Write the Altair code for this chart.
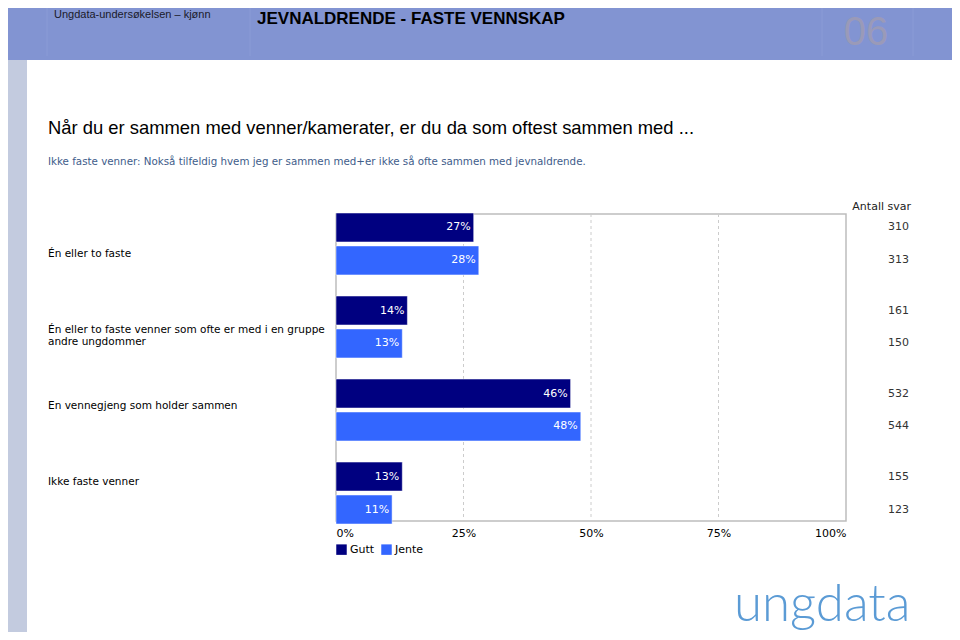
import altair as alt
import pandas as pd

# ---- data ----
groups = [
    "Én eller to faste",
    "Én eller to faste venner som ofte er med i en gruppe andre ungdommer",
    "En vennegjeng som holder sammen",
    "Ikke faste venner",
]
group_labels = [
    "Én eller to faste",
    "Én eller to faste venner som ofte er med i en gruppe\nandre ungdommer",
    "En vennegjeng som holder sammen",
    "Ikke faste venner",
]
genders = ["Gutt", "Jente"]
gutt_pct = [27, 14, 46, 13]
jente_pct = [28, 13, 48, 11]
gutt_n = [310, 161, 532, 155]
jente_n = [313, 150, 544, 123]
x_ticks = [0, 25, 50, 75, 100]

colors = ["#000080", "#3366FF"]

rows = []
for i, g in enumerate(groups):
    rows.append({"group": g, "kjonn": "Gutt", "pct": gutt_pct[i], "n": gutt_n[i], "lbl": f"{gutt_pct[i]}%"})
    rows.append({"group": g, "kjonn": "Jente", "pct": jente_pct[i], "n": jente_n[i], "lbl": f"{jente_pct[i]}%"})
df = pd.DataFrame(rows)
lab_df = pd.DataFrame({"group": groups, "label": group_labels})
grid_df = pd.DataFrame({"v": x_ticks[1:-1]})

W, H = 944, 624
FONT = "DejaVu Sans"

xscale = alt.Scale(domain=[0, 100], range=[328, 838])
yscale = alt.Scale(domain=groups, range=[205, 516], paddingInner=0.254, paddingOuter=0)
yoff = alt.YOffset("kjonn:N", scale=alt.Scale(domain=genders, paddingInner=0.12))

one = alt.Data(values=[{"a": 1}])

# ---- decorations ----
header = alt.Chart(one).mark_rect(color="#8294D2").encode(
    x=alt.value(0), x2=alt.value(W), y=alt.value(0), y2=alt.value(52))
sidebar = alt.Chart(one).mark_rect(color="#C3CBDF").encode(
    x=alt.value(0), x2=alt.value(19), y=alt.value(52), y2=alt.value(H))
sep_df = alt.Data(values=[{"x": 39}, {"x": 242}, {"x": 814}, {"x": 905}])
seps = alt.Chart(sep_df).mark_rule(color="#8A9BD6", strokeWidth=1).encode(
    x=alt.X("x:Q", scale=None), y=alt.value(0), y2=alt.value(48))
h1 = alt.Chart(one).mark_text(align="left", baseline="middle", font="Liberation Sans",
                              fontSize=11, color="#1a1a2a").encode(
    x=alt.value(46), y=alt.value(7), text=alt.value("Ungdata-undersøkelsen – kjønn"))
h2 = alt.Chart(one).mark_text(align="left", baseline="middle", font="Liberation Sans",
                              fontSize=17, fontWeight="bold", color="#000000").encode(
    x=alt.value(249), y=alt.value(11), text=alt.value("JEVNALDRENDE - FASTE VENNSKAP"))
h3 = alt.Chart(one).mark_text(align="center", baseline="middle", font="Liberation Sans",
                              fontSize=40, color="#9A9AB8").encode(
    x=alt.value(858), y=alt.value(25), text=alt.value("06"))

title = alt.Chart(one).mark_text(align="left", baseline="middle", font="Liberation Sans",
                                 fontSize=18.4, color="#000000").encode(
    x=alt.value(40), y=alt.value(120),
    text=alt.value("Når du er sammen med venner/kamerater, er du da som oftest sammen med ..."))
subtitle = alt.Chart(one).mark_text(align="left", baseline="middle", font=FONT,
                                    fontSize=10.3, color="#3E5C8A").encode(
    x=alt.value(40), y=alt.value(154),
    text=alt.value("Ikke faste venner: Nokså tilfeldig hvem jeg er sammen med+er ikke så ofte sammen med jevnaldrende."))

antall = alt.Chart(one).mark_text(align="right", baseline="middle", font=FONT,
                                  fontSize=11, color="#222222").encode(
    x=alt.value(903), y=alt.value(199), text=alt.value("Antall svar"))

logo = alt.Chart(one).mark_text(align="left", baseline="alphabetic", font="Lato",
                                fontSize=51, fontWeight=300, color="#5B9BD5").encode(
    x=alt.value(726), y=alt.value(613), text=alt.value("ungdata"))

# ---- plot frame and grid ----
frame = alt.Chart(one).mark_rect(fill="white", stroke="#BDBDBD", strokeWidth=1.5).encode(
    x=alt.X("x0:Q", scale=xscale), x2=alt.X2("x1:Q"),
    y=alt.value(206), y2=alt.value(513)).transform_calculate(x0="0", x1="100")
grid = alt.Chart(grid_df).mark_rule(color="#CCCCCC", strokeDash=[3, 3], strokeWidth=1).encode(
    x=alt.X("v:Q", scale=xscale), y=alt.value(206), y2=alt.value(513))

# ---- bars ----
bars = alt.Chart(df).mark_bar(stroke="white", strokeWidth=0.5).encode(
    x=alt.X("pct:Q", scale=xscale,
            axis=alt.Axis(orient="bottom", offset=-111, values=x_ticks, labelExpr="datum.value + '%'",
                          labelFlush=True, domain=False, ticks=False, grid=False,
                          labelFont=FONT, labelFontSize=11, labelColor="#000000",
                          labelPadding=6, title=None)),
    x2=alt.datum(0),
    y=alt.Y("group:N", scale=yscale, axis=None),
    yOffset=yoff,
    color=alt.Color("kjonn:N", scale=alt.Scale(domain=genders, range=colors),
                    legend=alt.Legend(orient="none", legendX=328, legendY=536, direction="horizontal",
                                      title=None, symbolType="square", symbolSize=110,
                                      symbolStrokeWidth=0, labelFont=FONT, labelFontSize=11,
                                      labelColor="#000000", columnPadding=6, labelOffset=3)),
)
bar_text = alt.Chart(df).mark_text(align="right", baseline="middle", dx=-3, font=FONT,
                                   fontSize=11, color="#FFFFFF").encode(
    x=alt.X("pct:Q", scale=xscale),
    y=alt.Y("group:N", scale=yscale, axis=None),
    yOffset=yoff,
    text="lbl:N",
)
n_text = alt.Chart(df).mark_text(align="right", baseline="middle", font=FONT,
                                 fontSize=11, color="#333333").encode(
    x=alt.value(901),
    y=alt.Y("group:N", scale=yscale, axis=None),
    yOffset=yoff,
    text="n:Q",
)
cat_text = alt.Chart(lab_df).mark_text(align="left", baseline="middle", font=FONT, fontSize=10.5,
                                       color="#000000", lineBreak="\n", lineHeight=12).encode(
    x=alt.value(40),
    y=alt.Y("group:N", scale=alt.Scale(type="point", domain=groups, range=[246, 474], padding=0),
            axis=None),
    text="label:N",
)

chart = alt.layer(
    header, sidebar, seps, h1, h2, h3, title, subtitle, antall, logo,
    frame, grid, bars, bar_text, n_text, cat_text,
).resolve_scale(y="independent").properties(
    width=W, height=H, autosize=alt.AutoSizeParams(type="none"), padding=0,
    background="white",
).configure_view(stroke=None)

chart.save("out.html", embed_options={"renderer": "svg", "actions": False})
